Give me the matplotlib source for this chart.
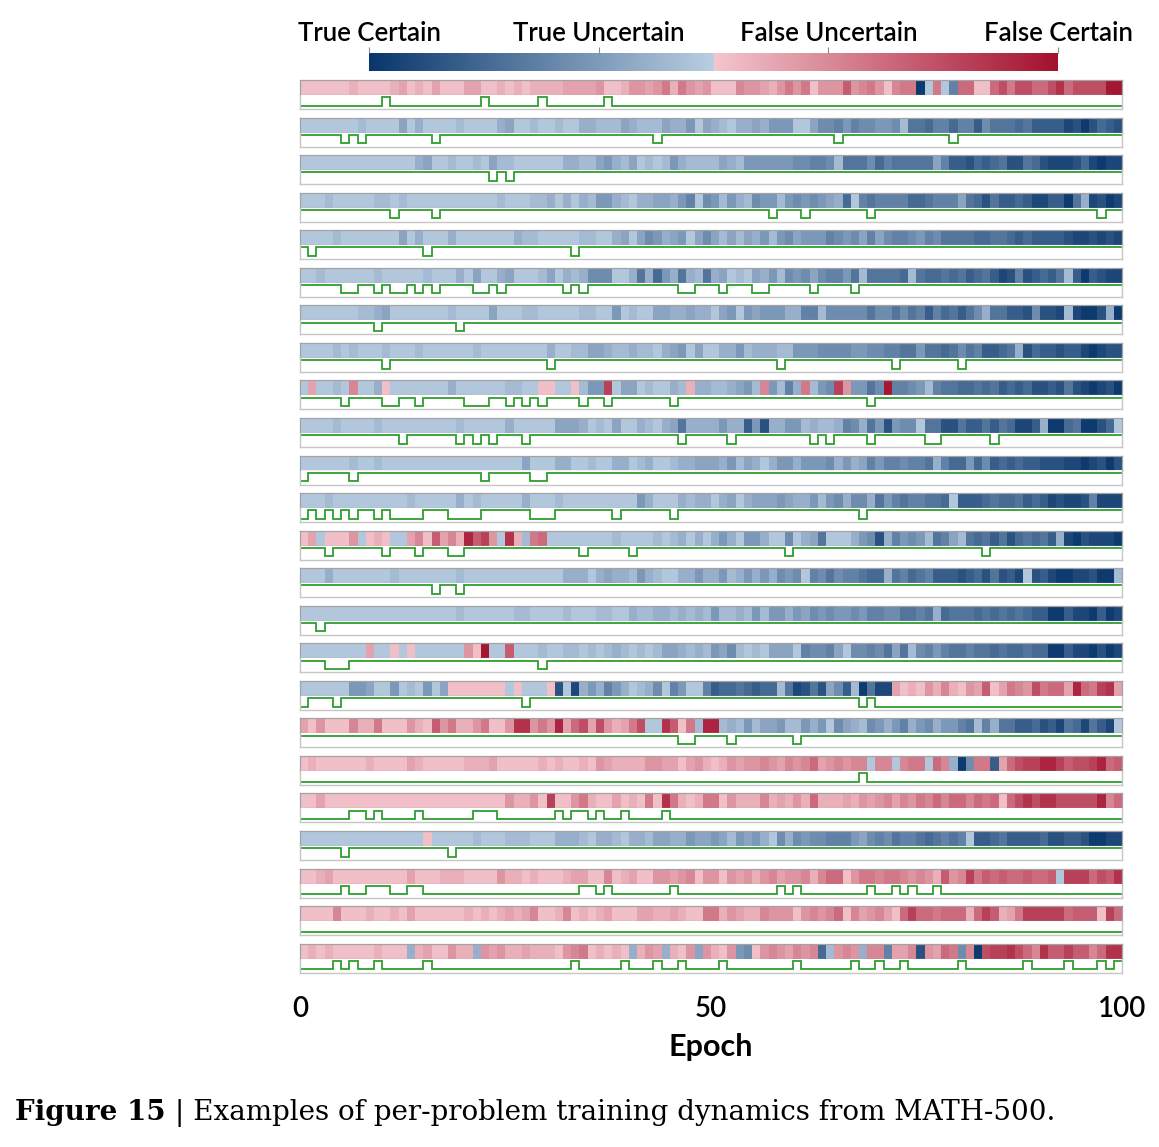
import numpy as np
import matplotlib
matplotlib.use("Agg")
import matplotlib.pyplot as plt
from matplotlib.colors import LinearSegmentedColormap, Normalize
from matplotlib.cm import ScalarMappable
from matplotlib import font_manager

W, H = 1159, 1147

# ---------------- data ----------------
# one letter per epoch: a (darkest blue, True Certain) ... m (lightest blue),
# n (lightest pink) ... z (darkest red, False Certain)
LEVELS = "abcdefghijklmnopqrstuvwxyz"

ROWS = [
    ("nnnnnnonnnno" "p" "non" "p" "nnn" "pp" "nn" "o" "non" "oooo" "pppp" "q" "nn" "o" "qq" "p" "q" "s" "o" "s" "qpq"
     "nnn" "r" "qq" "p" "o" "q" "s" "q" "s" "n" "qqq" "u" "q" "r" "s" "q" "n" "r" "ss" "a" "m" "s" "m" "g" "tt" "nn" "t" "v" "s" "v" "v" "tt" "v" "x" "t" "vvv" "v" "zz"),
    ("mmmmmmm" "l" "mmmm" "j" "m" "k" "mmmmlmmmm" "k" "j" "mmlmmlmm" "kk" "lll" "j" "k" "lll" "j" "kk" "i" "m" "j"
     "klm" "kkjk" "iii" "mm" "j" "hh" "g" "i" "g" "hh" "ii" "h" "l" "ff" "e" "gg" "e" "gg" "d" "h" "fff" "e" "f" "dddd" "b" "c" "a" "c" "e" "d" "c"),
    ("mmmmmmmmmmmmmm" "k" "j" "mm" "l" "mm" "l" "m" "j" "ll" "mm" "mmmm" "kk" "ll" "j" "i" "k" "l" "j" "mlml" "i" "k" "lll"
     "ljkl" "iiiiii" "hh" "gg" "h" "l" "fff" "h" "e" "g" "fffff" "j" "g" "dd" "c" "e" "d" "e" "f" "cc" "f" "e" "c" "bbb" "c" "e" "b" "a" "bb"),
    ("mmm" "l" "mmmmm" "ll" "m" "l" "mmmmmmmmmmm" "l" "mmm" "ll" "k" "m" "k" "m" "k" "l" "ii" "k" "l" "m" "k" "k" "jj" "k" "i" "g" "m" "h"
     "ilikl" "hiili" "hihij" "kemgf" "gggge" "efggg" "jfecf" "ddedb" "bddaf" "kbcab"),
    ("mmmm" "l" "mmmmmmm" "j" "m" "k" "mmm" "k" "mmmmmmm" "k" "ll" "mmmmm" "ll" "mm" "k" "j" "m" "j" "h" "i" "k" "j" "i" "m" "j" "h"
     "jljljkilih" "jiiighihjg" "jhgghighff" "ffeeffeded" "dddcbbcbcb"),
    ("mm" "l" "mmmmmm" "l" "mmmmm" "l" "mmm" "k" "m" "j" "mm" "k" "j" "mmm" "l" "j" "m" "k" "l" "k" "hhh" "mm" "k" "f" "k" "e" "i" "k" "f" "k" "l" "f"
     "kjmlmjkilh" "ihjhggiflf" "fffelfeefe" "fdefdbcgcd" "edfldadcbb"),
    ("mmmmmmm" "ll" "k" "j" "mmmmmmm" "l" "mmmm" "j" "mmm" "ll" "mmmmm" "ll" "mm" "i" "m" "l" "mm" "jj" "k" "kjkk"
     "mjimijiiik" "kgglhhhhhf" "hhfhfgdgef" "dfhkffddch" "ccblbaacka"),
    ("mmmm" "l" "m" "l" "mmm" "l" "mmm" "l" "mmmmmm" "l" "mmmmmmmm" "k" "mm" "ll" "jj" "k" "ll" "k" "ll" "m" "k" "j" "i" "m" "j" "m"
     "mkkilkkkll" "iiihhhhiih" "hggffiffef" "hfgddefkce" "ddcddbabcc"),
    ("m" "p" "mm" "l" "m" "r" "mm" "k" "n" "mmmmmmm" "k" "mmmmmm" "ll" "mm" "nn" "mm" "n" "l" "ii" "w" "m" "jj" "m" "l" "mm" "k" "l" "o" "kk"
     "llkjilrilg" "kslihwqiif" "hzgghilgff" "eefefdedec" "cdcfcbabca"),
    ("mmmm" "l" "mmmm" "l" "mmmmmmmmm" "l" "mmmmm" "k" "mmmmm" "jjj" "k" "m" "l" "m" "j" "mm" "k" "l" "m" "k" "j" "f" "k" "kk"
     "kikkdickki" "ilkllkghkf" "icihhmffcc" "fddfdfebbd" "kaaefaacem"),
    ("mmmmmm" "l" "mm" "l" "mmmmmmmmmmmmmmmmm" "j" "mmm" "kk" "mm" "l" "mm" "kk" "m" "l" "k" "mm" "l" "kk" "jj"
     "jkiljkmkii" "kiiihkikjg" "igghggfkge" "eiehdededd" "cccbbabcac"),
    ("mmm" "l" "mmmmmmmmm" "l" "mmmmm" "k" "m" "l" "mmmmm" "k" "mmm" "l" "mmmmmmmmm" "i" "k" "mmm" "k" "l" "kk"
     "mkjmkjjjij" "kkilihkhhk" "figfggffem" "dddefeefde" "dbcbbcgbbb"),
    ("n" "p" "m" "nnn" "q" "m" "n" "o" "n" "mm" "p" "r" "n" "u" "p" "r" "o" "y" "u" "w" "q" "m" "x" "o" "l" "s" "t" "mmmmmmmmlmmmmlml" "k" "m" "k" "m"
     "kikmiikmmh" "mkjfmmmkih" "ckgihilfgj" "lfefdfcefe" "fdkbacbbba"),
    ("mmm" "k" "mmmmmmm" "l" "mmmmmmm" "l" "mmmmmmmmmmmm" "kkk" "m" "kjkkl" "i" "k" "l" "mm" "kk" "i" "k"
     "kilkikikhi" "hmghfhggfe" "ekfgefgddd" "cdecfcdbmc" "dbaabbcaal"),
    ("mmmmmmmmmmmmmmmmmmm" "l" "mmmmmm" "ll" "mmmm" "l" "mmm" "ll" "mm" "k" "ll" "kk" "l" "k" "l" "k" "l"
     "illkliliik" "ijhihiihig" "ghhffgfkef" "ffefefefed" "daadbbadab"),
    ("mmmmmmmm" "p" "mm" "n" "m" "n" "mmmmmm" "q" "n" "z" "mm" "u" "mmm" "l" "mmllmlml" "k" "lmlml" "jj" "klkl"
     "ijhlmlmjjj" "mghhgjmhhg" "hfjflhgigf" "fgffefeefe" "eaadbbacab"),
    ("mmmmmm" "ii" "j" "mm" "i" "m" "l" "m" "i" "m" "j" "nnnnnnn" "m" "n" "mmm" "n" "c" "m" "b" "k" "i" "k" "g" "i" "k" "m" "l" "k" "h" "m" "g" "i" "mm" "g"
     "deefedeelf" "bcfcjhdlaf" "bbpnonqoro" "nqpunpsrqv" "sttpytswxp"),
    ("pnqnnnroos" "nnnqonuqso" "oqsnnqxxqs" "qyptvpvqop" "svmmxunsly"
     "y" "lkliljjill" "ikimhjklhi" "kigkihkiig" "flgkffddec" "dbfebfdbm"),
    ("n" "o" "nnnnnn" "o" "nnnn" "p" "o" "nnnnn" "ooo" "p" "nnnnn" "o" "nonnon" "q" "p" "oooo" "qq" "pp" "n" "p" "q" "o"
     "noqpqqrqpr" "qrtpqrqrrm" "rrmrssmtrk" "ahssdptvww" "yywuvvwytu"),
    ("nn" "p" "nnnnnnnnnnnnnnnnnnnnnn" "q" "oo" "q" "n" "w" "nn" "q" "s" "o" "nn" "p" "n" "o" "n" "s" "n" "x" "s" "o" "n" "o" "s"
     "s" "nqoooropoq" "otooopoqpq" "rprqsrtrtt" "rtstntvxvx" "xvvvvvyrt"),
    ("mmmmmmmmmmmmmmm" "n" "mmmmm" "l" "mmm" "lll" "mmm" "kkk" "l" "m" "kk" "l" "m" "kk" "l" "jj" "kk" "i" "jj"
     "i" "jlijikmhkh" "ihhgggijhg" "hfggfefgfg" "mddefdddde" "ccddcaabb"),
    ("nn" "o" "p" "nnnnnnnnn" "p" "nnn" "ooo" "nnnn" "q" "oo" "n" "o" "nnn" "o" "pp" "nn" "r" "n" "o" "p" "nn" "qq" "p" "q" "r" "n" "q"
     "q" "nqpqoqrpqq" "rorttnqssr" "ssrqrqouqr" "wsututtutt" "umwwwtvux"),
    ("nnnn" "r" "nnnonnon" "p" "nnnnnn" "o" "nono" "p" "o" "p" "r" "nno" "r" "nono" "p" "nnn" "pp" "oo" "p" "o" "nn" "s"
     "s" "oqpoorqqqn" "qrqrtnrpqr" "pntwttsttt" "otwuopswww" "wwtuuunwt"),
    ("n" "o" "n" "o" "nnnnn" "o" "nnn" "k" "o" "p" "nn" "q" "oo" "k" "q" "p" "q" "oo" "p" "ooo" "n" "q" "r" "s" "nonon" "k" "o" "q" "p" "k" "o" "n" "q" "j" "q"
     "o" "nqihnqrqpr" "qrelqrqkrr" "gpprcqptsh" "ravwwxvtrx" "uuwuurtxx"),
]

# green indicator per row: usual level and the epochs where it flips
STEP_BASE = [0, 1, 1, 1, 1, 1, 1, 1, 1, 1, 1, 1, 1, 1, 1, 1, 1, 1, 0, 0, 1, 0, 0, 0]
STEP_FLIPS = [
    [10, 22, 29, 37],
    [5, 7, 16, 43, 65, 79],
    [23, 25],
    [11, 16, 57, 61, 69, 97],
    [1, 15, 33],
    [5, 6, 9, 11, 12, 14, 16, 21, 22, 24, 32, 34, 46, 47, 51, 55, 56, 62, 67],
    [9, 19],
    [10, 30, 58, 72, 80],
    [5, 10, 11, 14, 20, 21, 22, 25, 27, 29, 34, 37, 45, 69],
    [12, 19, 21, 23, 27, 46, 52, 62, 64, 69, 76, 77, 84],
    [0, 6, 22, 28, 29],
    [0, 2, 4, 6, 9, 11, 12, 13, 14, 18, 19, 20, 21, 28, 29, 30, 38, 45, 68],
    [3, 10, 14, 18, 19, 34, 40, 59, 83],
    [16, 19],
    [2],
    [3, 4, 5, 29],
    [0, 4, 27, 68, 70, 71, 72, 73, 74, 75, 76, 77, 78, 79, 80, 81, 82, 83, 84, 85,
     86, 87, 88, 89, 90, 91, 92, 93, 94, 95, 96, 97, 98, 99],
    [46, 47, 52, 60],
    [68],
    [6, 7, 9, 14, 21, 22, 23, 31, 33, 34, 36, 39, 44],
    [5, 18],
    [5, 8, 9, 10, 13, 14, 34, 35, 37, 45, 58, 60, 69, 72, 74, 77],
    [],
    [4, 6, 9, 15, 33, 39, 43, 46, 51, 60, 67, 70, 73, 80, 88, 93, 97, 99],
]

CB_TICKS = [0, 1 / 3, 2 / 3, 1]
CB_LABELS = ["True Certain", "True Uncertain", "False Uncertain", "False Certain"]
X_TICKS = [0, 50, 100]
X_LABEL = "Epoch"
CAPTION_BOLD = "Figure 15"
CAPTION_REST = " | Examples of per-problem training dynamics from MATH-500."
N_EPOCHS = 100

# ---------------- style ----------------
def has_font(name):
    try:
        font_manager.findfont(font_manager.FontProperties(family=name), fallback_to_default=False)
        return True
    except Exception:
        return False

if has_font("Lato"):
    SANS, SCALE, WEIGHT = ["Lato", "DejaVu Sans"], 1.0, "semibold"
else:
    SANS, SCALE, WEIGHT = ["DejaVu Sans"], 0.88, "normal"

cmap = LinearSegmentedColormap.from_list(
    "certainty",
    [(0.0, "#08366b"), (0.4999, "#bacde1"), (0.5, "#f4c6cd"), (1.0, "#a3102e")],
    N=512,
)
norm = Normalize(0, 1)
GREEN = "#2e9e2e"

fig = plt.figure(figsize=(W / 100, H / 100), dpi=100)


def px_axes(x, y, w, h):
    return fig.add_axes([x / W, 1 - (y + h) / H, w / W, h / H])


LEFT, WIDTH = 300, 822
TOP0, PITCH = 80, 37.55
HH, SH = 15, 14
edges = np.arange(N_EPOCHS + 1)

for i, row in enumerate(ROWS):
    vals = np.array([(LEVELS.index(c) + 0.5) / len(LEVELS) for c in row])
    top = TOP0 + PITCH * i
    axh = px_axes(LEFT, top, WIDTH, HH)
    axh.imshow(vals[None, :], cmap=cmap, norm=norm, aspect="auto",
               extent=[0, N_EPOCHS, 0, 1], interpolation="nearest")
    axh.set_xlim(0, N_EPOCHS)
    axh.set_xticks([])
    axh.set_yticks([])
    for s in axh.spines.values():
        s.set_color("#a3a3a3")
        s.set_linewidth(0.9)

    step = np.full(N_EPOCHS, STEP_BASE[i], dtype=float)
    if STEP_FLIPS[i]:
        step[STEP_FLIPS[i]] = 1 - STEP_BASE[i]
    axs = px_axes(LEFT, top + HH, WIDTH, SH)
    axs.stairs(step, edges, baseline=None, color=GREEN, lw=1.3)
    axs.set_xlim(0, N_EPOCHS)
    axs.set_ylim(-0.39, 1.27)
    axs.set_yticks([])
    axs.spines["top"].set_visible(False)
    for k in ("left", "right", "bottom"):
        axs.spines[k].set_color("#c6c6c6")
        axs.spines[k].set_linewidth(1.0)
    if i == len(ROWS) - 1:
        axs.set_xticks(X_TICKS)
        axs.set_xticklabels([str(t) for t in X_TICKS], family=SANS, fontsize=20 * SCALE,
                            fontweight=WEIGHT)
        axs.tick_params(axis="x", length=0, pad=17)
        axs.set_xlabel(X_LABEL, family=SANS, fontsize=22 * SCALE, fontweight="bold", labelpad=8)
    else:
        axs.set_xticks([])

# colour bar
cax = px_axes(369, 53, 689, 18)
cb = fig.colorbar(ScalarMappable(norm=norm, cmap=cmap), cax=cax, orientation="horizontal")
cb.outline.set_visible(False)
cb.set_ticks(CB_TICKS)
cb.ax.xaxis.set_ticks_position("top")
cb.ax.set_xticklabels(CB_LABELS, family=SANS, fontsize=18.5 * SCALE, fontweight=WEIGHT)
cb.ax.tick_params(axis="x", length=4, width=0.8, color="#8c8c8c", pad=1)

# caption
t1 = fig.text(15 / W, 1 - 1113 / H, CAPTION_BOLD, family="DejaVu Serif", fontweight="bold",
              fontsize=20, va="center", ha="left")
fig.canvas.draw()
r = fig.canvas.get_renderer()
bb = t1.get_window_extent(r)
t2 = fig.text(bb.x1 / W, 1 - 1113 / H, CAPTION_REST, family="DejaVu Serif",
              fontsize=20, va="center", ha="left")

fig.savefig("out.png", dpi=100)
